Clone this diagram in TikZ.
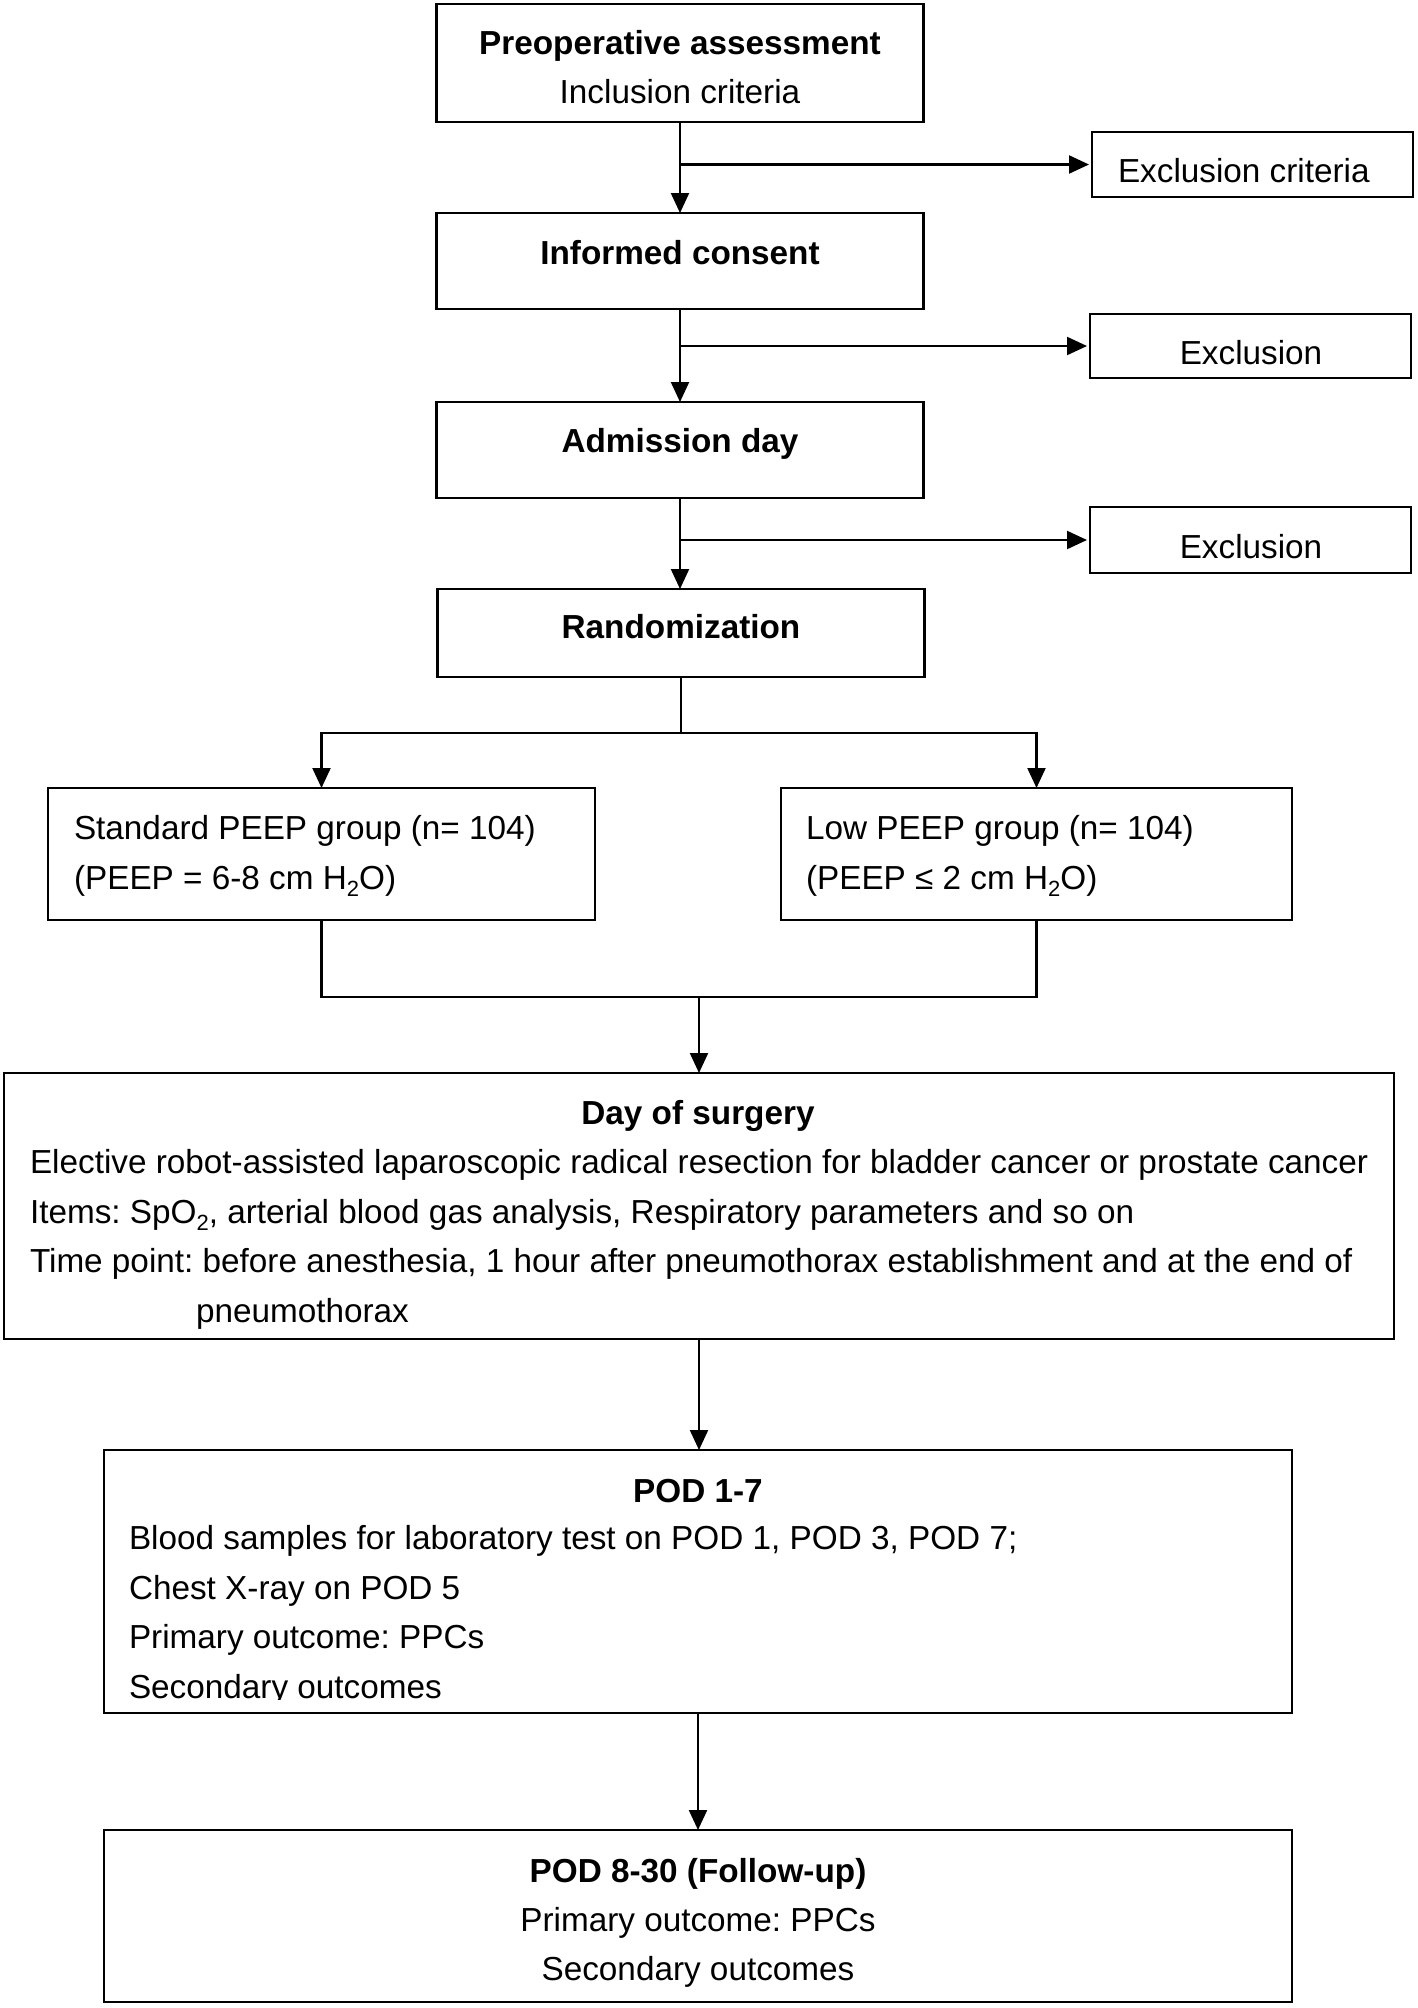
\documentclass[tikz,border=0pt]{standalone}
\usepackage{fontspec}
\setmainfont{Liberation Sans}
\usetikzlibrary{arrows.meta}
\newcommand\subtwo{\raisebox{-0.22em}{\fontsize{22}{22}\selectfont 2}}
\frenchspacing
\begin{document}
\begin{tikzpicture}[x=1pt,y=-1pt,
  box/.style={draw, line width=2.2pt, rectangle, inner sep=0pt, outer sep=0pt},
  conn/.style={line width=2.2pt},
  arr/.style={conn, -{Triangle[length=20pt,width=18pt]}},
  txt/.style={inner sep=0pt, outer sep=0pt, font=\fontsize{33.3}{40}\selectfont},
  btxt/.style={inner sep=0pt, outer sep=0pt, font=\fontsize{33.3}{40}\selectfont\bfseries},
]
\useasboundingbox (0,0) rectangle (1418,2008);
\fill[white] (0,0) rectangle (1418,2008);

% boxes
\node[box, minimum width=487pt, minimum height=118pt] (b1) at (680,63) {};
\node[box, minimum width=321pt, minimum height=65pt] (e0) at (1252.5,164.5) {};
\node[box, minimum width=487pt, minimum height=96pt] (b2) at (680,261) {};
\node[box, minimum width=321pt, minimum height=64pt] (e1) at (1250.5,346) {};
\node[box, minimum width=487pt, minimum height=96pt] (b3) at (680,450) {};
\node[box, minimum width=321pt, minimum height=66pt] (e2) at (1250.5,540) {};
\node[box, minimum width=487pt, minimum height=88pt] (rand) at (681,633) {};
\node[box, minimum width=547pt, minimum height=132pt] (std) at (321.5,854) {};
\node[box, minimum width=511pt, minimum height=132pt] (low) at (1036.5,854) {};
\node[box, minimum width=1390pt, minimum height=266pt] (day) at (699,1206) {};
\node[box, minimum width=1188pt, minimum height=263pt] (pod17) at (698,1581.5) {};
\node[box, minimum width=1188pt, minimum height=172pt] (pod830) at (698,1916) {};

% connectors
\draw[arr] (b1.south) -- (b2.north);
\coordinate (j1) at (b1.south |- e0.west);
\draw[arr, shorten >=3pt] (j1) -- (e0.west);
\draw[arr] (b2.south) -- (b3.north);
\coordinate (j2) at (b2.south |- e1.west);
\draw[arr, shorten >=3pt] (j2) -- (e1.west);
\draw[arr] (b3.south) -- (b3.south |- rand.north);
\coordinate (j3) at (b3.south |- e2.west);
\draw[arr, shorten >=3pt] (j3) -- (e2.west);
\coordinate (sp) at (681,733);
\draw[conn] (rand.south) -- (sp);
\draw[arr] (sp) -| (std.north);
\draw[arr] (sp) -| (low.north);
\coordinate (mg) at (699,997);
\draw[conn] (std.south) |- (mg);
\draw[conn] (low.south) |- (mg);
\draw[arr] (mg) -- (day.north);
\draw[arr] (day.south) -- (day.south |- pod17.north);
\draw[arr] (pod17.south) -- (pod830.north);

% texts
\node[btxt, anchor=base] (t1a) at (680,54) {Preoperative assessment};
\node[txt, anchor=base] (t1b) at (680,103) {Inclusion criteria};
\node[btxt, anchor=base] (t2) at (680,264) {Informed consent};
\node[btxt, anchor=base] (t3) at (680,452) {Admission day};
\node[btxt, anchor=base] (t4) at (681,638) {Randomization};
\node[txt, anchor=base west] (te0) at (1118,182) {Exclusion criteria};
\node[txt, anchor=base] (te1) at (1251,364) {Exclusion};
\node[txt, anchor=base] (te2) at (1251,558) {Exclusion};
\node[txt, anchor=base west] (ts1) at (74,839) {Standard PEEP group (n= 104)};
\node[txt, anchor=base west] (ts2) at (74,889) {(PEEP = 6-8 cm H\subtwo O)};
\node[txt, anchor=base west] (tl1) at (806,839) {Low PEEP group (n= 104)};
\node[txt, anchor=base west] (tl2) at (806,889) {(PEEP ≤ 2 cm H\subtwo O)};
\node[btxt, anchor=base] (td0) at (698,1124) {Day of surgery};
\node[txt, anchor=base west] (td1) at (30,1173.5) {Elective robot-assisted laparoscopic radical resection for bladder cancer or prostate cancer};
\node[txt, anchor=base west] (td2) at (30,1223) {Items: SpO\subtwo, arterial blood gas analysis, Respiratory parameters and so on};
\node[txt, anchor=base west] (td3) at (30,1272.5) {Time point: before anesthesia, 1 hour after pneumothorax establishment and at the end of};
\node[txt, anchor=base west] (td4) at (196,1322) {pneumothorax};
\node[btxt, anchor=base] (tp0) at (698,1502) {POD 1-7};
\node[txt, anchor=base west] (tp1) at (129,1549) {Blood samples for laboratory test on POD 1, POD 3, POD 7;};
\node[txt, anchor=base west] (tp2) at (129,1599) {Chest X-ray on POD 5};
\node[txt, anchor=base west] (tp3) at (129,1648) {Primary outcome: PPCs};
\begin{scope}
\clip (110,1650) rectangle (800,1699.5);
\node[txt, anchor=base west] (tp4) at (129,1698) {Secondary outcomes};
\end{scope}
\node[btxt, anchor=base] (tq0) at (698,1882) {POD 8-30 (Follow-up)};
\node[txt, anchor=base] (tq1) at (698,1931) {Primary outcome: PPCs};
\node[txt, anchor=base] (tq2) at (698,1980) {Secondary outcomes};
\end{tikzpicture}
\end{document}
